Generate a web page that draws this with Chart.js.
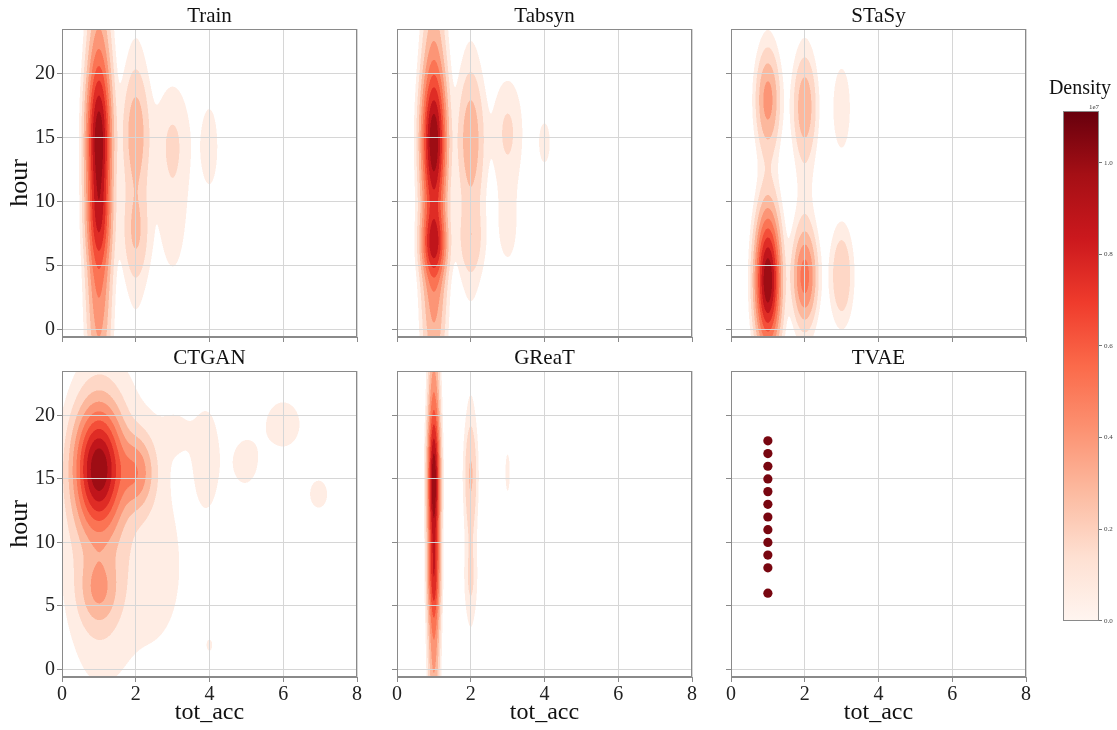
<!DOCTYPE html>
<html><head><meta charset="utf-8">
<script src="https://cdn.jsdelivr.net/npm/chart.js@4/dist/chart.umd.min.js"></script>
<style>
html,body{margin:0;padding:0;background:#fff;width:1117px;height:730px;overflow:hidden;position:relative}
canvas{position:absolute}
</style></head><body>
<script>
// ---------------- data ----------------
const panelTitles = ['Train', 'Tabsyn', 'STaSy', 'CTGAN', 'GReaT', 'TVAE'];
const xTicks = [0, 2, 4, 6, 8];
const yTicks = [0, 5, 10, 15, 20];
const xLabel = 'tot_acc';
const yLabel = 'hour';
// KDE bumps: [tot_acc, hour, spread in tot_acc, spread in hour, relative weight]
const trainPeaks = [
  [1, 15.0, 0.2, 3.5, 0.5],
  [1, 8.5, 0.2, 2.2, 0.2],
  [1, 11.0, 0.2, 9.0, 0.4],
  [2, 15.5, 0.23, 2.8, 0.1],
  [2, 7.5, 0.23, 2.2, 0.07],
  [2, 12.0, 0.23, 7.0, 0.06],
  [3, 15.0, 0.34, 2.5, 0.028],
  [3, 11.0, 0.34, 5.5, 0.04],
  [4, 14.3, 0.19, 2.6, 0.04]
];
const tabsynPeaks = [
  [1, 15.0, 0.2, 3.1, 0.55],
  [1, 6.7, 0.2, 1.6, 0.4],
  [1, 11.0, 0.2, 8.5, 0.38],
  [2, 15.0, 0.23, 3.0, 0.11],
  [2, 7.0, 0.23, 1.8, 0.06],
  [2, 12.0, 0.23, 7.0, 0.055],
  [3, 15.5, 0.28, 2.8, 0.06],
  [3, 8.0, 0.28, 3.0, 0.03],
  [4, 14.6, 0.15, 1.6, 0.035]
];
const stasyPeaks = [
  [1, 3.8, 0.2, 3.0, 1.0],
  [1, 18.0, 0.2, 2.3, 0.22],
  [1, 11.0, 0.2, 8.0, 0.04],
  [2, 4.1, 0.2, 2.2, 0.34],
  [2, 17.5, 0.2, 2.4, 0.16],
  [2, 11.0, 0.2, 8.0, 0.035],
  [3, 17.3, 0.21, 2.9, 0.045],
  [3, 4.2, 0.2, 2.4, 0.12]
];
const ctganPeaks = [
  [1, 15.8, 0.38, 2.8, 1.0],
  [2, 15.5, 0.3, 1.8, 0.27],
  [1, 6.3, 0.31, 1.7, 0.16],
  [1, 8.5, 0.45, 4.5, 0.04],
  [1, 13.0, 0.5, 7.0, 0.05],
  [1.6, 11.5, 1.4, 10.0, 0.04],
  [2.6, 7.0, 0.5, 3.5, 0.015],
  [3.2, 18.8, 0.4, 1.6, 0.016],
  [3.95, 16.6, 0.25, 2.8, 0.045],
  [4.97, 16.3, 0.3, 1.55, 0.043],
  [6.0, 19.3, 0.46, 1.8, 0.043],
  [6.96, 13.8, 0.24, 1.1, 0.043],
  [4.0, 1.9, 0.08, 0.47, 0.033]
];
const greatPeaks = [
  [1, 15.0, 0.1, 3.2, 0.5],
  [1, 7.3, 0.1, 2.2, 0.22],
  [1, 11.5, 0.1, 9.0, 0.42],
  [2, 15.5, 0.12, 2.5, 0.07],
  [2, 12.5, 0.12, 6.5, 0.05],
  [2, 7.0, 0.12, 1.8, 0.03],
  [3, 15.5, 0.06, 1.5, 0.035]
];
const tvaeAcc = [1, 1, 1, 1, 1, 1, 1, 1, 1, 1, 1, 1];
const tvaeHours = [6, 8, 9, 10, 11, 12, 13, 14, 15, 16, 17, 18];
// contour levels as fractions of each panel's peak density
const levelFractions = [0.025, 0.06, 0.12, 0.2, 0.3, 0.42, 0.55, 0.7, 0.85];
const densityTicks = [0, 0.2, 0.4, 0.6, 0.8, 1.0];
const densityMax = 1.113; // x 1e7
const densityLabel = 'Density';
const densityExp = '1e7';

// ---------------- styling helpers ----------------
const FONT = 'Liberation Serif';
const redsStops = ['#fff5f0', '#fee0d2', '#fcbba1', '#fc9272', '#fb6a4a', '#ef3b2c', '#cb181d', '#a50f15', '#67000d'];
function hexRgb(h) { return [parseInt(h.substr(1, 2), 16), parseInt(h.substr(3, 2), 16), parseInt(h.substr(5, 2), 16)]; }
function reds(t) {
  t = Math.max(0, Math.min(1, t));
  const p = t * (redsStops.length - 1), i = Math.min(redsStops.length - 2, Math.floor(p)), f = p - i;
  const a = hexRgb(redsStops[i]), b = hexRgb(redsStops[i + 1]);
  return [0, 1, 2].map(k => Math.round(a[k] + (b[k] - a[k]) * f));
}
const bandColors = levelFractions.map((_, k) => reds(0.05 + k * 0.105));

const densityPlugin = {
  id: 'densityField',
  beforeDraw(chart) {
    const peaks = chart.options.plugins.densityField && chart.options.plugins.densityField.peaks;
    if (!peaks || !peaks.length) return;
    const ca = chart.chartArea, xs = chart.scales.x, ys = chart.scales.y;
    const S = 2, W = Math.round(ca.width * S), H = Math.round(ca.height * S);
    const gx = peaks.map(() => new Float64Array(W)), gy = peaks.map(() => new Float64Array(H));
    for (let i = 0; i < W; i++) {
      const v = xs.getValueForPixel(ca.left + (i + 0.5) / S);
      peaks.forEach((p, c) => { const d = (v - p[0]) / p[2]; gx[c][i] = Math.exp(-0.5 * d * d); });
    }
    for (let j = 0; j < H; j++) {
      const v = ys.getValueForPixel(ca.top + (j + 0.5) / S);
      peaks.forEach((p, c) => { const d = (v - p[1]) / p[3]; gy[c][j] = p[4] * Math.exp(-0.5 * d * d); });
    }
    const field = new Float64Array(W * H);
    let mx = 0;
    for (let j = 0; j < H; j++) for (let i = 0; i < W; i++) {
      let s = 0;
      for (let c = 0; c < peaks.length; c++) s += gx[c][i] * gy[c][j];
      field[j * W + i] = s; if (s > mx) mx = s;
    }
    const lv = levelFractions.map(f => f * mx);
    const off = document.createElement('canvas'); off.width = W; off.height = H;
    const octx = off.getContext('2d'), img = octx.createImageData(W, H);
    for (let n = 0; n < W * H; n++) {
      const s = field[n]; let k = 0;
      while (k < lv.length && s >= lv[k]) k++;
      if (k > 0) { const col = bandColors[k - 1]; img.data[4 * n] = col[0]; img.data[4 * n + 1] = col[1]; img.data[4 * n + 2] = col[2]; img.data[4 * n + 3] = 255; }
    }
    octx.putImageData(img, 0, 0);
    const ctx = chart.ctx; ctx.save(); ctx.imageSmoothingEnabled = true; ctx.imageSmoothingQuality = 'high';
    ctx.drawImage(off, ca.left, ca.top, ca.width, ca.height); ctx.restore();
  }
};
const framePlugin = {
  id: 'frame',
  afterDraw(chart) {
    const ca = chart.chartArea, ctx = chart.ctx;
    ctx.save(); ctx.strokeStyle = '#8a8a8a'; ctx.lineWidth = 1;
    ctx.strokeRect(Math.round(ca.left) + 0.5, Math.round(ca.top) + 0.5, Math.round(ca.width) - 1, Math.round(ca.height) - 1);
    ctx.restore();
  }
};

// ---------------- layout ----------------
const LY = 62, TT = 29, RR = 8, BX = 53;
const plotLefts = [62, 397, 731], plotTops = [29, 371], plotW = 295, plotHs = [308, 306];
const panelPeaks = [trainPeaks, tabsynPeaks, stasyPeaks, ctganPeaks, greatPeaks, null];

panelTitles.forEach((title, i) => {
  const row = Math.floor(i / 3), col = i % 3;
  const cv = document.createElement('canvas');
  const w = LY + plotW + RR, h = TT + plotHs[row] + BX;
  cv.width = w; cv.height = h;
  cv.style.width = w + 'px'; cv.style.height = h + 'px';
  cv.style.left = (plotLefts[col] - LY) + 'px'; cv.style.top = (plotTops[row] - TT) + 'px';
  document.body.appendChild(cv);
  const datasets = [];
  if (title === 'TVAE') {
    datasets.push({ data: tvaeAcc.map((a, k) => ({ x: a, y: tvaeHours[k] })), pointRadius: 4.6, pointBackgroundColor: '#780610', pointBorderColor: '#780610', pointBorderWidth: 0 });
  } else {
    datasets.push({ data: [] });
  }
  new Chart(cv, {
    type: 'scatter',
    data: { datasets },
    options: {
      responsive: false, animation: false, maintainAspectRatio: false,
      layout: { padding: { left: 0, right: RR, top: 0, bottom: 0 } },
      plugins: {
        legend: { display: false }, tooltip: { enabled: false },
        title: { display: true, text: title, fullSize: false, color: '#111', font: { family: FONT, size: 21, lineHeight: 1, weight: 'normal' }, padding: { top: 6, bottom: 2 } },
        densityField: { peaks: panelPeaks[i] }
      },
      scales: {
        x: {
          type: 'linear', min: 0, max: 8,
          afterBuildTicks: s => { s.ticks = xTicks.map(v => ({ value: v })); },
          afterFit: s => { s.height = BX; },
          ticks: { display: row === 1, color: '#222', font: { family: FONT, size: 20 }, padding: 1, maxRotation: 0 },
          grid: { color: '#d6d6d6', lineWidth: 1, tickLength: 5, tickColor: '#8a8a8a', drawTicks: true },
          border: { color: '#8a8a8a', width: 1 },
          title: { display: row === 1, text: xLabel, color: '#111', font: { family: FONT, size: 24 }, padding: { top: 0, bottom: 3 } }
        },
        y: {
          type: 'linear', min: -0.6, max: 23.5,
          afterBuildTicks: s => { s.ticks = yTicks.map(v => ({ value: v })); },
          afterFit: s => { s.width = LY; },
          ticks: { display: col === 0, color: '#222', font: { family: FONT, size: 20 }, padding: 2 },
          grid: { color: '#d6d6d6', lineWidth: 1, tickLength: 5, tickColor: '#8a8a8a', drawTicks: true },
          border: { color: '#8a8a8a', width: 1 },
          title: { display: col === 0, text: yLabel, color: '#111', font: { family: FONT, size: 26 }, padding: { top: 5, bottom: 0 } }
        }
      }
    },
    plugins: [densityPlugin, framePlugin]
  });
});

// ---------------- colorbar ----------------
(function () {
  const cv = document.createElement('canvas');
  const w = 80, h = 557;
  cv.width = w; cv.height = h; cv.style.width = w + 'px'; cv.style.height = h + 'px';
  cv.style.left = '1040px'; cv.style.top = '70px';
  document.body.appendChild(cv);
  const cbFrame = {
    id: 'cbFrame',
    afterDraw(chart) {
      const ca = chart.chartArea, ctx = chart.ctx;
      ctx.save(); ctx.strokeStyle = '#8a8a8a'; ctx.lineWidth = 1;
      ctx.strokeRect(Math.round(ca.left) + 0.5, Math.round(ca.top) + 0.5, Math.round(ca.width) - 1, Math.round(ca.height) - 1);
      ctx.restore();
    }
  };
  new Chart(cv, {
    type: 'bar',
    data: {
      labels: [densityLabel],
      datasets: [{
        data: [densityMax], borderWidth: 0, barPercentage: 1, categoryPercentage: 1, yAxisID: 'y',
        backgroundColor: c => {
          const ca = c.chart.chartArea; if (!ca) return '#fcbba1';
          const g = c.chart.ctx.createLinearGradient(0, ca.bottom, 0, ca.top);
          redsStops.forEach((s, k) => g.addColorStop(k / (redsStops.length - 1), s));
          return g;
        }
      }]
    },
    options: {
      responsive: false, animation: false, maintainAspectRatio: false,
      layout: { padding: { left: 0, right: 0, top: 0, bottom: 4 } },
      plugins: {
        legend: { display: false }, tooltip: { enabled: false },
        title: { display: true, text: densityLabel, fullSize: true, color: '#111', font: { family: FONT, size: 20, lineHeight: 1, weight: 'normal' }, padding: { top: 9, bottom: 3 } },
        subtitle: { display: true, text: densityExp, align: 'end', fullSize: false, color: '#333', font: { family: FONT, size: 7, lineHeight: 1 }, padding: { top: 2, bottom: 0 } }
      },
      scales: {
        x: { display: false },
        spacer: {
          type: 'linear', position: 'left', min: 0, max: 1,
          afterFit: s => { s.width = 23; },
          ticks: { display: false }, grid: { display: false }, border: { display: false }
        },
        y: {
          position: 'right', min: 0, max: densityMax,
          afterBuildTicks: s => { s.ticks = densityTicks.map(v => ({ value: v })); },
          afterFit: s => { s.width = 21; },
          ticks: { color: '#444', font: { family: FONT, size: 7 }, padding: 2, callback: v => Number(v).toFixed(1) },
          grid: { drawOnChartArea: false, drawTicks: true, tickLength: 3, tickColor: '#777' },
          border: { display: false }
        }
      }
    },
    plugins: [cbFrame]
  });
})();
</script>
</body></html>
